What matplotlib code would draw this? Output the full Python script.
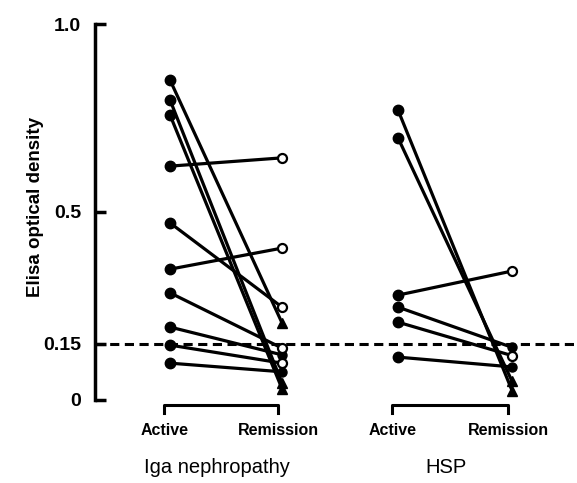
import numpy as np
import matplotlib
matplotlib.use("Agg")
import matplotlib.pyplot as plt

plt.rcParams['font.family'] = ['Liberation Sans', 'DejaVu Sans']

# values
iga_active = [0.851, 0.798, 0.758, 0.622, 0.471, 0.348, 0.285, 0.194, 0.146, 0.098]
iga_remission = [0.205, 0.045, 0.03, 0.644, 0.247, 0.404, 0.138, 0.12, 0.098, 0.075]
iga_marker = ['tri', 'tri', 'tri', 'open', 'open', 'open', 'open', 'fill', 'open', 'fill']

hsp_active = [0.771, 0.697, 0.279, 0.247, 0.207, 0.114]
hsp_remission = [0.025, 0.05, 0.343, 0.14, 0.118, 0.088]
hsp_marker = ['tri', 'tri', 'open', 'fill', 'open', 'fill']

cutoff = 0.15
yticks = [0, 0.15, 0.5, 1.0]
ytick_labels = ['0', '0.15', '0.5', '1.0']
phases = ['Active', 'Remission']
groups = ['Iga nephropathy', 'HSP']

# x positions of the columns
x_pos = [[0, 1], [2.036, 3.054]]

fig = plt.figure(figsize=(5.77, 4.83), dpi=100)
ax = fig.add_axes([95 / 577, 83 / 483, 482 / 577, 376 / 483])
ax.set_xlim(-0.67, 3.634)
ax.set_ylim(0, 1.0)


def draw_group(ax, xs, active, remission, markers):
    for a, r, m in zip(active, remission, markers):
        ax.plot(xs, [a, r], color='black', lw=2.3, zorder=3, clip_on=False)
        ax.plot(xs[0], a, 'o', ms=7.5, color='black', zorder=4, clip_on=False)
        if m == 'open':
            ax.plot(xs[1], r, 'o', ms=6.5, mfc='white', mec='black', mew=1.6,
                    zorder=5, clip_on=False)
        elif m == 'fill':
            ax.plot(xs[1], r, 'o', ms=6.5, color='black', zorder=4, clip_on=False)
        else:
            ax.plot(xs[1], r, '^', ms=6.5, color='black', zorder=4, clip_on=False)


draw_group(ax, x_pos[0], iga_active, iga_remission, iga_marker)
draw_group(ax, x_pos[1], hsp_active, hsp_remission, hsp_marker)

# cut-off line
ax.axhline(cutoff, color='black', lw=2.2, ls=(0, (3, 1.8)), zorder=2)

# axis styling
for side in ['top', 'right', 'bottom']:
    ax.spines[side].set_visible(False)
ax.spines['left'].set_linewidth(2.5)
ax.set_xticks([])
ax.set_yticks(yticks)
ax.set_yticklabels(ytick_labels, fontsize=14, fontweight='bold')
ax.tick_params(axis='y', direction='in', length=8, width=2.5, pad=10)
ax.set_ylabel('Elisa optical density', fontsize=13.5, fontweight='bold')
ax.yaxis.set_label_coords(-0.105, 0.513)

# brackets, phase labels and group labels below the axis
for xs, g in zip(x_pos, groups):
    bx = [xs[0] - 0.05, xs[0] - 0.05, xs[1] - 0.035, xs[1] - 0.035]
    ax.plot(bx, [-0.035, -0.013, -0.013, -0.035], color='black', lw=2.2, clip_on=False)
    ax.text(xs[0] - 0.05, -0.08, phases[0], ha='center', va='center',
            fontsize=11.5, fontweight='bold')
    ax.text(xs[1] - 0.03, -0.08, phases[1], ha='center', va='center',
            fontsize=11.5, fontweight='bold')
    ax.text((xs[0] + xs[1]) / 2 - 0.08, -0.18, g, ha='center', va='center', fontsize=14.5)

fig.savefig('out.png', dpi=100)
